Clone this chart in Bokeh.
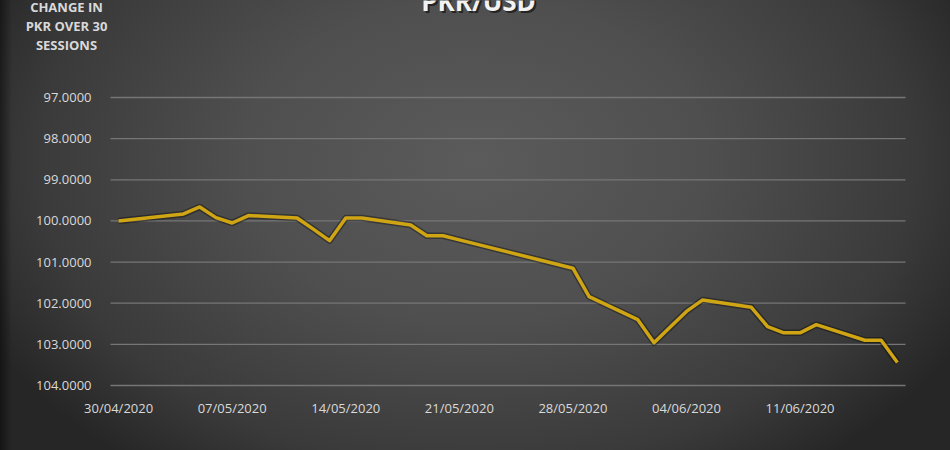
from datetime import datetime
import pandas as pd
from bokeh.plotting import figure
from bokeh.models import (Range1d, FixedTicker, DatetimeTickFormatter, Label,
                          ColumnDataSource, NumeralTickFormatter)
from bokeh.embed import file_html
from bokeh.resources import INLINE

# ---------------- data ----------------
dates = ["2020-04-30", "2020-05-04", "2020-05-05", "2020-05-06", "2020-05-07",
         "2020-05-08", "2020-05-11", "2020-05-12", "2020-05-13", "2020-05-14",
         "2020-05-15", "2020-05-18", "2020-05-19", "2020-05-20", "2020-05-21",
         "2020-05-28", "2020-05-29", "2020-06-01", "2020-06-02", "2020-06-03",
         "2020-06-04", "2020-06-05", "2020-06-08", "2020-06-09", "2020-06-10",
         "2020-06-11", "2020-06-12", "2020-06-15", "2020-06-16", "2020-06-17"]
pkr_usd = [100.00, 99.83, 99.66, 99.92, 100.05,
           99.87, 99.93, 100.20, 100.48, 99.93,
           99.93, 100.10, 100.36, 100.36, 100.46,
           101.15, 101.84, 102.40, 102.96, 102.58,
           102.20, 101.92, 102.10, 102.57, 102.72,
           102.72, 102.52, 102.90, 102.90, 103.44]
x_tick_dates = ["2020-04-30", "2020-05-07", "2020-05-14", "2020-05-21",
                "2020-05-28", "2020-06-04", "2020-06-11"]
y_ticks = [97, 98, 99, 100, 101, 102, 103, 104]
title_text = "PKR/USD"
side_lines = ["CHANGE IN", "PKR OVER 30", "SESSIONS"]

# ---------------- layout (pixel geometry of the plot area) ----------------
W, H = 950, 450
AREA_L, AREA_R, AREA_T, AREA_B = 110, 905, 97, 385   # plot-area box in canvas px
EPOCH = datetime(1970, 1, 1)


def ms(dt):
    return (dt - EPOCH).total_seconds() * 1000.0


xa = ms(datetime(2020, 4, 29, 12))   # data x at AREA_L
xb = ms(datetime(2020, 6, 17, 12))   # data x at AREA_R
ya, yb = 97.0, 104.0                 # data y at AREA_T / AREA_B
kx = (xb - xa) / (AREA_R - AREA_L)
ky = (yb - ya) / (AREA_B - AREA_T)


def px_to_x(px):
    return xa + (px - AREA_L) * kx


def py_to_y(py):
    return ya + (py - AREA_T) * ky


src = ColumnDataSource(dict(date=pd.to_datetime(dates), rate=pkr_usd))

p = figure(width=W, height=H, x_axis_type="datetime",
           x_range=Range1d(px_to_x(0), px_to_x(W)),
           y_range=Range1d(py_to_y(H), py_to_y(0)),
           output_backend="svg", toolbar_location=None, title=None,
           min_border=0)

p.background_fill_color = None
p.border_fill_color = None
p.outline_line_color = None
p.styles = {
    "background": ("linear-gradient(to right, rgba(0,0,0,0.45) 0px, rgba(0,0,0,0) 12px), "
                   "radial-gradient(ellipse 58% 85% at 50% 36%, #5b5b5b 0%, #4f4f4f 42%, "
                   "#3a3a3a 80%, #262626 100%)"),
}

xax, yax = p.xaxis[0], p.yaxis[0]
for ax in (xax, yax):
    ax.axis_line_color = None
    ax.major_tick_line_color = None
    ax.minor_tick_line_color = None
    ax.major_label_text_font = "Open Sans"
    ax.major_label_text_font_size = "13px"
    ax.major_label_text_color = "#d9d9d9"

yax.fixed_location = xa
yax.ticker = FixedTicker(ticks=y_ticks)
yax.formatter = NumeralTickFormatter(format="0.0000")
yax.major_label_standoff = 13

xax.fixed_location = yb
xax.ticker = FixedTicker(ticks=[ms(datetime.fromisoformat(d)) for d in x_tick_dates])
fmt = "%d/%m/%Y"
xax.formatter = DatetimeTickFormatter(
    milliseconds=fmt, seconds=fmt, minsec=fmt, minutes=fmt, hourmin=fmt,
    hours=fmt, days=fmt, months=fmt, years=fmt)
xax.major_label_standoff = 7

p.xgrid.visible = False
p.ygrid.visible = False

# horizontal gridlines across the plot area only
p.segment(x0=[xa] * len(y_ticks), x1=[xb] * len(y_ticks), y0=y_ticks, y1=y_ticks,
          line_color="#767676", line_width=1.3)

# series line with soft shadow
p.line(x="date", y="rate", source=src, line_color="black", line_alpha=0.35,
       line_width=6.5, line_join="round")
p.line(x="date", y="rate", source=src, line_color="#CFA514",
       line_width=3.5, line_join="round")

common = dict(text_font="Open Sans", text_font_style="bold")

# title (partly cut off at the top edge, as in the reference)
for off, col, alpha in ((2, "#000000", 0.55), (0, "#f2f2f2", 1.0)):
    p.add_layout(Label(x=px_to_x(478), y=py_to_y(0), text=title_text,
                       x_offset=off, y_offset=-off,
                       text_align="center", text_baseline="alphabetic",
                       text_font_size="26px", text_color=col, text_alpha=alpha,
                       **common))

# side text
for line, base in zip(side_lines, (6.3, 25.5, 44.3)):
    p.add_layout(Label(x=px_to_x(66), y=py_to_y(base), text=line,
                       text_align="center", text_baseline="alphabetic",
                       text_font_size="13px", text_color="#d9d9d9", **common))

open("out.html", "w").write(file_html(p, INLINE))
